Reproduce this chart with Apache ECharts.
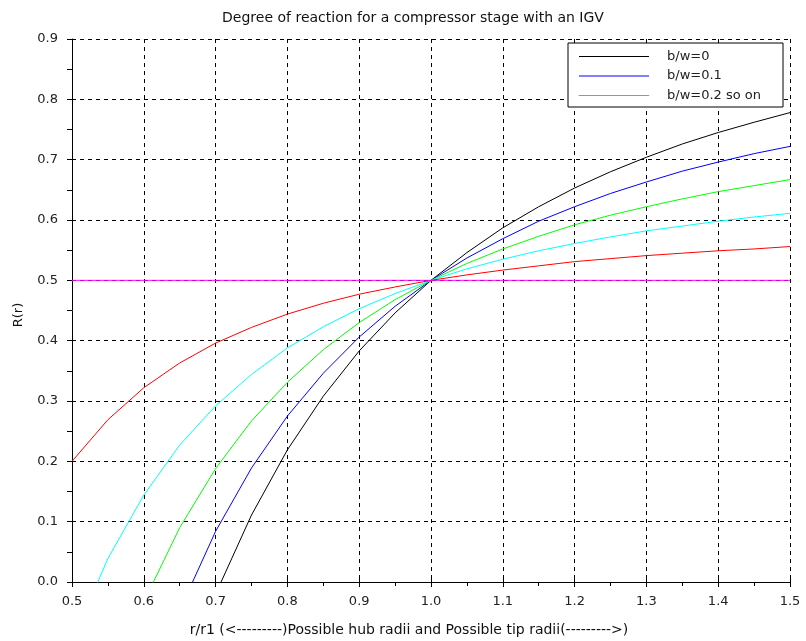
<!DOCTYPE html>
<html><head><meta charset="utf-8">
<script src="https://cdn.jsdelivr.net/npm/echarts@6/dist/echarts.min.js"></script>
<style>html,body{margin:0;padding:0;background:#fff}#c{width:806px;height:641px}</style>
</head><body><div id="c"></div>
<script>
const titleText = 'Degree of reaction for a compressor stage with an IGV';
const xLabel = 'r/r1 (<---------)Possible hub radii and Possible tip radii(--------->)';
const yLabel = 'R(r)';
const rValues = [0.5,0.55,0.6,0.65,0.7,0.75,0.8,0.85,0.9,0.95,1.0,1.05,1.1,1.15,1.2,1.25,1.3,1.35,1.4,1.45,1.5];
const blackR = [-1,-0.653,-0.389,-0.183,-0.020,0.111,0.219,0.308,0.383,0.446,0.5,0.546,0.587,0.622,0.653,0.680,0.704,0.726,0.745,0.762,0.778];
const blueR  = [-0.7,-0.422,-0.211,-0.047,0.084,0.189,0.275,0.346,0.406,0.457,0.5,0.537,0.569,0.598,0.622,0.644,0.663,0.681,0.696,0.710,0.722];
const greenR = [-0.4,-0.192,-0.033,0.090,0.188,0.267,0.331,0.385,0.430,0.468,0.5,0.528,0.552,0.573,0.592,0.608,0.622,0.635,0.647,0.657,0.667];
const cyanR  = [-0.1,0.039,0.144,0.227,0.292,0.344,0.388,0.423,0.453,0.478,0.5,0.519,0.535,0.549,0.561,0.572,0.582,0.590,0.598,0.605,0.611];
const redR   = [0.2,0.269,0.322,0.363,0.396,0.422,0.444,0.462,0.477,0.489,0.5,0.509,0.517,0.524,0.531,0.536,0.541,0.545,0.549,0.552,0.556];
const magentaX = [0.5,1.5];
const magentaR = [0.5,0.5];
const seriesNames = ['b/w=0','b/w=0.1','b/w=0.2 so on','b/w=0.3','b/w=0.4','R=0.5'];
const legendNames = ['b/w=0','b/w=0.1','b/w=0.2 so on'];

const F = 'DejaVu Sans';
const pair = (xs, ys) => xs.map((x,i)=>[x, ys[i]]);
const mk = (name, xs, ys, color) => ({
  name, type:'line', data: pair(xs, ys), symbol:'none', showSymbol:false, clip:true,
  lineStyle:{color, width:1}, itemStyle:{color}, animation:false, z:3
});
const chart = echarts.init(document.getElementById('c'), null, {renderer:'canvas'});
const baseX = {type:'value', min:0.5, max:1.5, interval:0.1};
const baseY = {type:'value', min:0, max:0.9, interval:0.1};
chart.setOption({
  animation:false,
  grid:{left:72, right:16, top:39, bottom:59, containLabel:false},
  xAxis:[Object.assign({}, baseX, {
    position:'bottom',
    axisLine:{show:true, onZero:false, lineStyle:{color:'#000', width:1}},
    axisTick:{show:true, inside:false, length:5, lineStyle:{color:'#000'}},
    minorTick:{show:true, splitNumber:2, length:4, lineStyle:{color:'#000'}},
    axisLabel:{show:true, margin:13, color:'#222', fontFamily:F, fontSize:13, formatter:v=>v.toFixed(1)},
    splitLine:{show:true, lineStyle:{color:'#000', type:[4,4], width:1}},
    minorSplitLine:{show:false}
  }), Object.assign({}, baseX, {
    position:'bottom',
    axisLine:{show:false}, axisLabel:{show:false}, splitLine:{show:false},
    axisTick:{show:true, inside:true, length:4, lineStyle:{color:'#000'}}
  })],
  yAxis:[Object.assign({}, baseY, {
    position:'left',
    axisLine:{show:true, onZero:false, lineStyle:{color:'#000', width:1}},
    axisTick:{show:true, inside:false, length:5, lineStyle:{color:'#000'}},
    minorTick:{show:true, splitNumber:2, length:5, lineStyle:{color:'#000'}},
    axisLabel:{show:true, margin:14, color:'#222', fontFamily:F, fontSize:13, formatter:v=>v.toFixed(1)},
    splitLine:{show:true, lineStyle:{color:'#000', type:[4,4], width:1}}
  }), Object.assign({}, baseY, {
    position:'left',
    axisLine:{show:false}, axisLabel:{show:false}, splitLine:{show:false},
    axisTick:{show:true, inside:true, length:4, lineStyle:{color:'#000'}}
  })],
  legend:{
    data:legendNames, orient:'vertical', left:568, top:43,
    padding:[7,22,5,11], itemWidth:70, itemHeight:14, itemGap:6.5,
    backgroundColor:'#fff', borderColor:'#000', borderWidth:1, borderRadius:0,
    textStyle:{fontFamily:F, fontSize:13, color:'#222', padding:[0,0,0,13]},
    icon:'path://M0,0 L70,0 L70,1 L0,1 Z', selectedMode:false
  },
  series:[
    mk(seriesNames[0], rValues, blackR, '#000000'),
    mk(seriesNames[1], rValues, blueR, '#0000ff'),
    mk(seriesNames[2], rValues, greenR, '#00ff00'),
    mk(seriesNames[3], rValues, cyanR, '#00ffff'),
    mk(seriesNames[4], rValues, redR, '#ff0000'),
    mk(seriesNames[5], magentaX, magentaR, '#ff00ff')
  ],
  graphic:[
    {type:'text', x:413, y:18, style:{text:titleText, fontFamily:F, fontSize:14, fill:'#111', align:'center', verticalAlign:'middle'}},
    {type:'text', x:409, y:630, style:{text:xLabel, fontFamily:F, fontSize:14, fill:'#111', align:'center', verticalAlign:'middle'}},
    {type:'text', rotation:Math.PI/2, x:19, y:315, style:{text:yLabel, fontFamily:F, fontSize:13, fill:'#111', align:'center', verticalAlign:'middle'}}
  ]
});
</script></body></html>
